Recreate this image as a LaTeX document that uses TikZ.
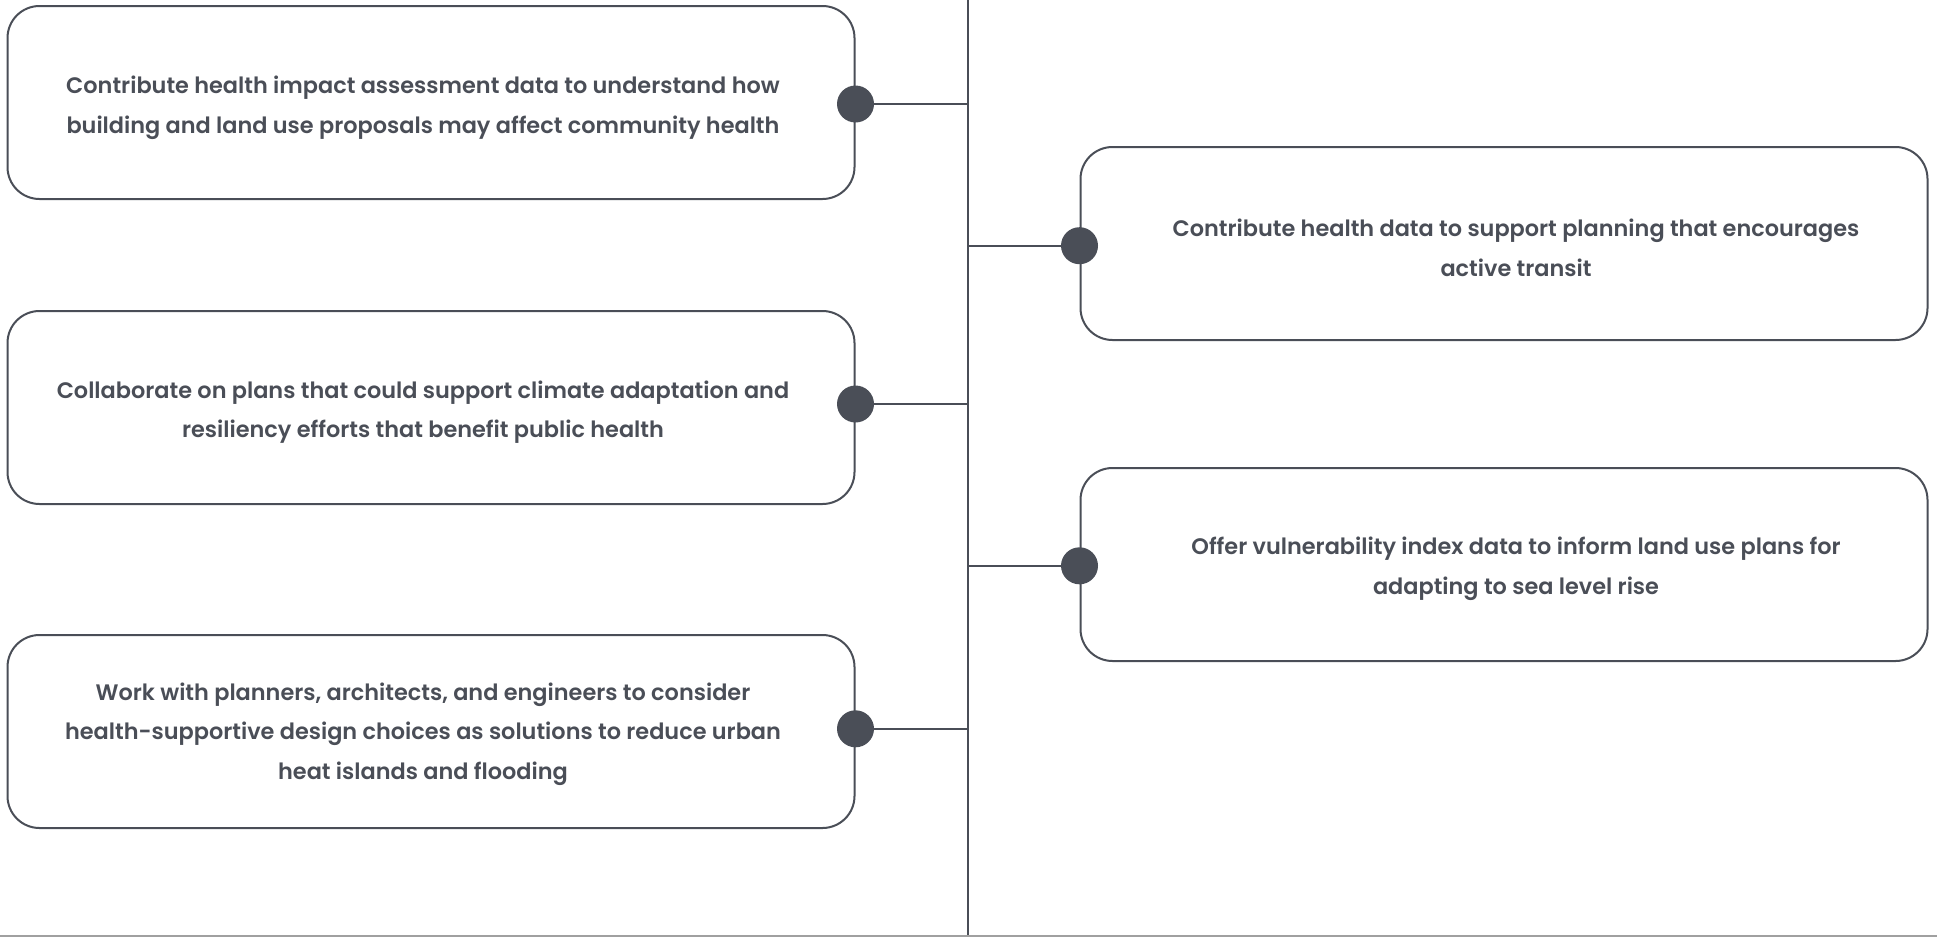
\documentclass[tikz,border=0pt]{standalone}
\usepackage{fontspec}
\setmainfont{Poppins}[UprightFont=* SemiBold, BoldFont=* SemiBold]
\definecolor{ink}{HTML}{4A4E57}
\definecolor{rule}{HTML}{A0A0A0}
\begin{document}
\begin{tikzpicture}[x=1pt,y=-1pt,
  card/.style={draw=ink,line width=2pt,rounded corners=32pt,minimum width=847pt,minimum height=193pt,inner sep=0pt},
  label/.style={text=ink,align=center,font=\fontsize{22.4}{39.5}\selectfont},
  dot/.style={circle,fill=ink,minimum size=37pt,inner sep=0pt},
  link/.style={draw=ink,line width=2pt}]
\useasboundingbox (0,0) rectangle (1937,937);
\draw[rule,line width=1.2pt] (0,936) -- (1937,936);
\coordinate (top) at (967.5,0);
\coordinate (bot) at (967.5,935);
\draw[link] (top) -- (bot);
% left boxes
\node[card] (b1) at (431,102.5) {};
\node[label] (t1) at (423,108) {Contribute health impact assessment data to understand how\\building and land use proposals may affect community health};
\node[card] (b2) at (431,407.5) {};
\node[label] (t2) at (423,412) {Collaborate on plans that could support climate adaptation and\\resiliency efforts that benefit public health};
\node[card] (b3) at (431,731.5) {};
\node[label] (t3) at (423,734) {Work with planners, architects, and engineers to consider\\health-supportive design choices as solutions to reduce urban\\heat islands and flooding};
% right boxes
\node[card] (r1) at (1504,243.5) {};
\node[label] (u1) at (1516,248) {Contribute health data to support planning that encourages\\active transit};
\node[card] (r2) at (1504,564.5) {};
\node[label] (u2) at (1516,569) {Offer vulnerability index data to inform land use plans for\\adapting to sea level rise};
% junctions
\coordinate (j1) at (967.5,104);
\coordinate (j2) at (967.5,245.7);
\coordinate (j3) at (967.5,404);
\coordinate (j4) at (967.5,565.8);
\coordinate (j5) at (967.5,728.8);
\node[dot] (d1) at (b1.east |- j1) {};
\node[dot] (d2) at (r1.west |- j2) {};
\node[dot] (d3) at (b2.east |- j3) {};
\node[dot] (d4) at (r2.west |- j4) {};
\node[dot] (d5) at (b3.east |- j5) {};
\draw[link] (d1) -- (j1);
\draw[link] (d2) -- (j2);
\draw[link] (d3) -- (j3);
\draw[link] (d4) -- (j4);
\draw[link] (d5) -- (j5);
\end{tikzpicture}
\end{document}
